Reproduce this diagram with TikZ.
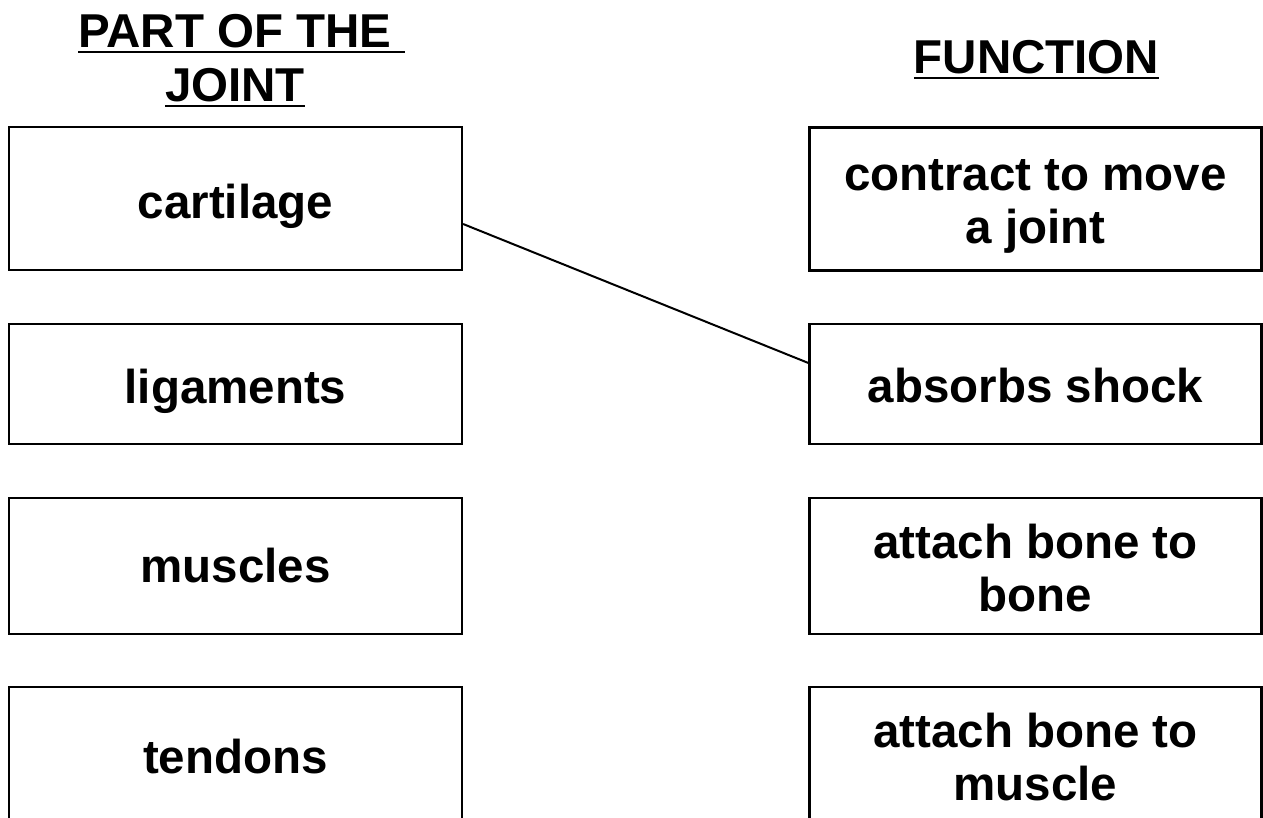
\documentclass[tikz,border=0pt]{standalone}
\usepackage{fontspec}
\setmainfont{Liberation Sans}
\newcommand\myul[2][0pt]{\setbox0\hbox{#2}\rlap{\rule[-5.3pt]{\dimexpr\wd0+#1\relax}{2.6pt}}\box0}
\begin{document}
\begin{tikzpicture}[x=1pt,y=-1pt,
  every node/.style={font=\bfseries\fontsize{47.5}{53}\selectfont},
  box/.style={draw, line width=2.2pt, inner sep=0pt, minimum width=453pt, align=center},
  one/.style={text height=#1, text depth=0pt},
  one/.default=38pt,
  two/.style={text height=90pt, text depth=0pt},
  head/.style={font=\bfseries\fontsize{47.5}{54}\selectfont, inner sep=0pt, align=center},
  link/.style={line width=2pt}
]
\fill[white] (0,0) rectangle (1263,818);
\useasboundingbox (0,0) rectangle (1263,818);
% headings
\node[head, text height=54pt, text depth=0pt] (h1) at (235,75) {\myul[13pt]{PART OF THE}\\\myul{JOINT}};
\node[head, anchor=base] (h2) at (1036.5,74) {\myul{FUNCTION}};
% left column
\node[box, one=40pt, minimum height=143pt] (c1) at (235.5,198.5) {cartilage};
\node[box, one=38pt, minimum height=120pt] (c2) at (235.5,384) {ligaments};
\node[box, one=32pt, minimum height=136pt] (c3) at (235.5,566) {muscles};
\node[box, one=36pt, minimum height=136pt] (c4) at (235.5,755) {tendons};
% right column
\node[box, two, minimum width=452pt, minimum height=143pt] (f1) at (1035.5,199) {contract to move\\a joint};
\node[box, one=36pt, minimum width=452pt, minimum height=120pt] (f2) at (1035.5,384) {absorbs shock};
\node[box, two, minimum width=452pt, minimum height=136pt] (f3) at (1035.5,566) {attach bone to\\bone};
\node[box, two, minimum width=452pt, minimum height=136pt] (f4) at (1035.5,755) {attach bone to\\muscle};
% connector
\draw[link] ([yshift=-25.5pt]c1.east) -- ([yshift=21pt]f2.west);
\end{tikzpicture}
\end{document}
